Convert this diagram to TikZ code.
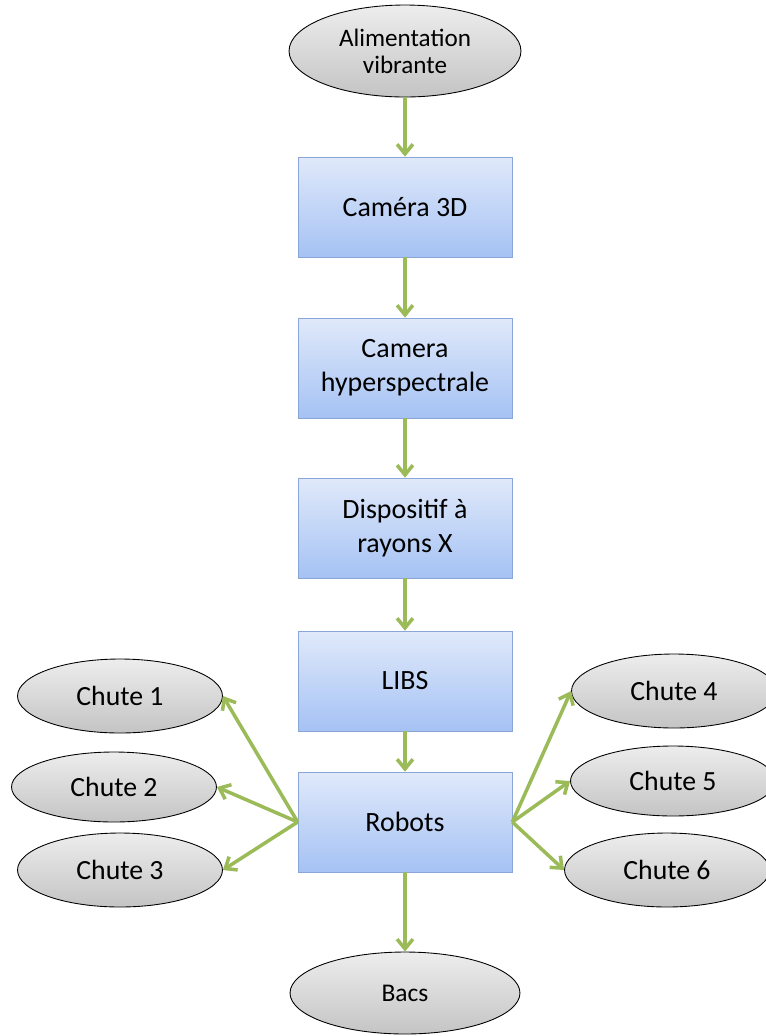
\documentclass[tikz,border=0pt]{standalone}
\usepackage{fontspec}
\setmainfont{Carlito}
\usetikzlibrary{shapes.geometric,arrows.meta}

\definecolor{flowgreen}{HTML}{9BBB59}
\definecolor{boxtop}{HTML}{E0E9FA}
\definecolor{boxbot}{HTML}{A5C2F4}
\definecolor{boxline}{HTML}{8AA6D6}
\definecolor{ovaltop}{HTML}{EDEDED}
\definecolor{ovalbot}{HTML}{C4C4C4}

\begin{document}
\begin{tikzpicture}[x=0.02cm, y=-0.02cm,
    every node/.style={font=\fontsize{15.8}{16.2}\selectfont, align=center},
    stage/.style={rectangle, draw=boxline, top color=boxtop, bottom color=boxbot,
        minimum width=4.28cm, minimum height=2cm, font=\fontsize{15.9}{19.3}\selectfont},
    oval/.style={ellipse, draw=black, line width=0.5pt, top color=ovaltop, bottom color=ovalbot,
        minimum width=4.1cm, minimum height=1.48cm},
    flow/.style={-{Straight Barb[length=5.5pt, width=9pt]}, draw=flowgreen, line width=2pt}]
    \useasboundingbox (0,0) rectangle (766,1036);

    % Nodes
    \node[oval, minimum width=4.64cm, minimum height=1.84cm,
        font=\fontsize{14.3}{15.3}\selectfont] (feed) at (405, 51) {Alimentation\\vibrante};
    \node[stage] (cam3d) at (405, 207) {Caméra 3D};
    \node[stage] (hyper) at (405, 368) {Camera\\hyperspectrale};
    \node[stage] (xray) at (405, 528) {Dispositif à\\rayons X};
    \node[stage] (libs) at (405, 681) {LIBS};
    \node[stage] (robots) at (405, 822) {Robots};
    \node[oval, minimum width=4.6cm, minimum height=1.64cm,
        font=\fontsize{14.5}{16}\selectfont] (bins) at (405, 993) {Bacs};

    \node[oval] (c1) at (120, 696) {Chute 1};
    \node[oval, minimum height=1.4cm] (c2) at (114, 787) {Chute 2};
    \node[oval] (c3) at (120, 870) {Chute 3};
    \node[oval] (c4) at (674, 691) {Chute 4};
    \node[oval, minimum height=1.4cm] (c5) at (673, 781) {Chute 5};
    \node[oval] (c6) at (667, 870) {Chute 6};

    % Edges
    \draw[flow] (feed) -- (cam3d);
    \draw[flow] (cam3d) -- (hyper);
    \draw[flow] (hyper) -- (xray);
    \draw[flow] (xray) -- (libs);
    \draw[flow] (libs) -- (robots);
    \draw[flow] (robots) -- (bins);
    \foreach \c in {c1,c2,c3}
        \draw[flow] (robots.west) -- (\c.east);
    \foreach \c in {c4,c5,c6}
        \draw[flow] (robots.east) -- (\c.west);
\end{tikzpicture}
\end{document}
